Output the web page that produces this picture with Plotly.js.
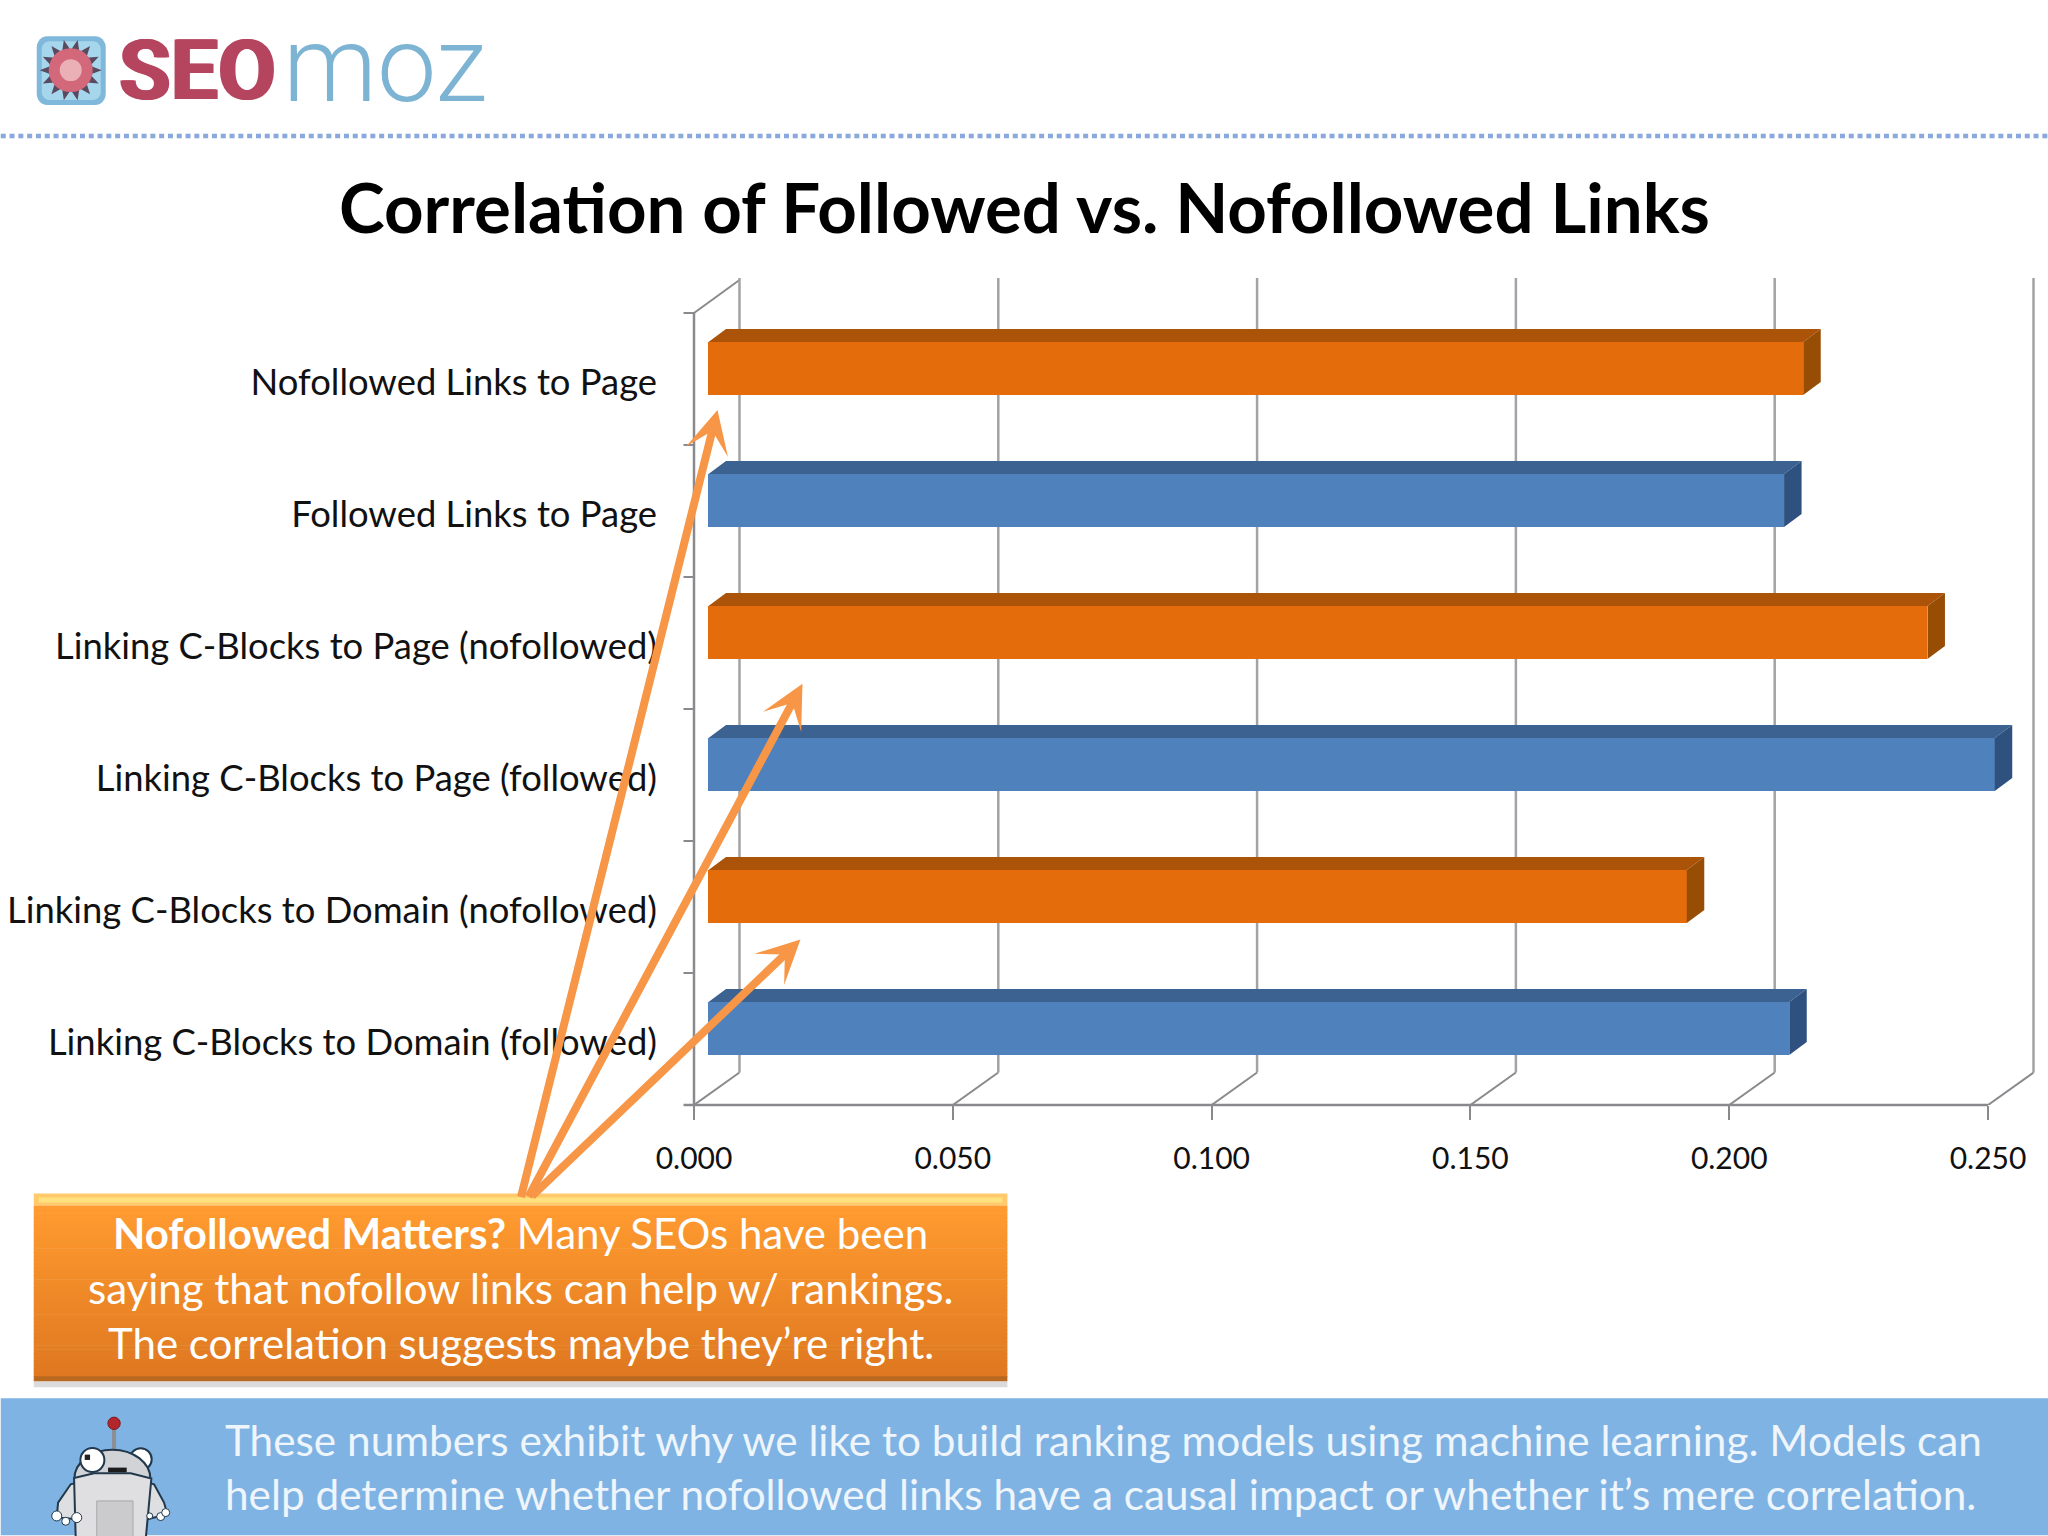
<!DOCTYPE html>
<html><head><meta charset="utf-8">
<script src="https://cdn.plot.ly/plotly-3.0.1.min.js"></script>
<style>html,body{margin:0;padding:0;background:#fff}</style></head>
<body><div id="chart" style="width:2048px;height:1536px"></div>
<script>
// ---- chart data, bottom row first ----
const categories = ['Linking C-Blocks to Domain (followed)','Linking C-Blocks to Domain (nofollowed)','Linking C-Blocks to Page (followed)','Linking C-Blocks to Page (nofollowed)','Followed Links to Page','Nofollowed Links to Page'];
const values = [0.2088,0.189,0.2485,0.2355,0.2078,0.2115];
const isNofollowed = [false,true,false,true,false,true];
const xTicks = [0,0.05,0.10,0.15,0.20,0.25];
const xTickLabels = ['0.000','0.050','0.100','0.150','0.200','0.250'];
const titleText = 'Correlation of Followed vs. Nofollowed Links';
const calloutLines = ['<b>Nofollowed Matters?</b> Many SEOs have been','saying that nofollow links can help w/ rankings.','The correlation suggests maybe they’re right.'];
const footerLines = ['These numbers exhibit why we like to build ranking models using machine learning. Models can','help determine whether nofollowed links have a causal impact or whether it’s mere correlation.'];

// ---- geometry of the page ----
const W=2048,H=1536,L=693.5,R=2040,T=278,B=1105.5;
const X=x=>(x-L)/(R-L), Y=y=>1-(y-T)/(B-T);
const xPerPx=0.25/(1988-L), yPerPx=6/(B-313);
const xMax=(R-L)*xPerPx, yTop=5.5+(313-T)*yPerPx;
const barBase=(708-L)*xPerPx, barW=53*yPerPx, barShift=10.5*yPerPx;
const dx=17.5*xPerPx, dy=13*yPerPx;
const wallDx=45.5*xPerPx, floorY=-0.5+32.5*yPerPx;
const FONT='Lato, sans-serif', GREY='#8a8a8e';

const shapes=[];
const line=(x0,y0,x1,y1,color,width,layer,dash)=>shapes.push({type:'line',xref:'paper',yref:'paper',x0:X(x0),y0:Y(y0),x1:X(x1),y1:Y(y1),layer:layer||'below',line:{color,width,dash:dash||'solid'}});
const rect=(x0,y0,x1,y1,fill,layer)=>shapes.push({type:'rect',xref:'paper',yref:'paper',x0:X(x0),y0:Y(y0),x1:X(x1),y1:Y(y1),layer:layer||'above',fillcolor:fill,line:{width:0}});
const circ=(cx,cy,rx,ry,fill,lc,lw)=>shapes.push({type:'circle',xref:'paper',yref:'paper',x0:X(cx-rx),y0:Y(cy-ry),x1:X(cx+rx),y1:Y(cy+ry),layer:'above',fillcolor:fill,line:{color:lc||fill,width:lw||0}});
const poly=(pts,fill,lc,lw)=>shapes.push({type:'path',xref:'paper',yref:'paper',path:'M'+pts.map(p=>X(p[0])+','+Y(p[1])).join('L')+'Z',layer:'above',fillcolor:fill,line:{color:lc||fill,width:lw||0}});
const rounded=(x0,y0,x1,y1,r)=>{const pts=[];[[x1-r,y0+r,-90],[x1-r,y1-r,0],[x0+r,y1-r,90],[x0+r,y0+r,180]].forEach(c=>{for(let k=0;k<=6;k++){const a=(c[2]+k*15)*Math.PI/180;pts.push([c[0]+r*Math.cos(a),c[1]+r*Math.sin(a)]);}});return pts;};

// walls and grid, all led by the tick values
xTicks.forEach(v=>{
  shapes.push({type:'line',xref:'x',yref:'y',x0:v+wallDx,x1:v+wallDx,y0:floorY,y1:yTop,layer:'below',line:{color:'#a3a3a7',width:2.5}});
  shapes.push({type:'line',xref:'x',yref:'y',x0:v,x1:v+wallDx,y0:-0.5,y1:floorY,layer:'below',line:{color:GREY,width:2}});
});
line(L,313,L,B,GREY,2.5);
line(L,313,739,280,GREY,2);
line(683,B,1988,B,GREY,2.5);
categories.forEach((c,i)=>{ shapes.push({type:'line',xref:'paper',yref:'y',x0:X(683),x1:X(L),y0:i+0.5,y1:i+0.5,layer:'below',line:{color:GREY,width:2}}); });

// dotted rule under the logo
line(0,136,W,136,'#8aa8dc',4.5,'above','5px,3.8px');

// logo badge
poly(rounded(36,36,105,105,11),'#7fb8da');
poly(rounded(41,41,100,100,8),'#a6d6ec');
const sun=[];for(let i=0;i<28;i++){const r=i%2?20:31,a=i*Math.PI/14;sun.push([70+r*Math.cos(a),70+r*Math.sin(a)]);}
poly(sun,'#5a4a60');
circ(70,70,22,22,'#d4687b');
circ(70,70,11,11,'#eab0b5');

// callout
rect(33,1382,1007,1388,'rgba(90,90,90,0.22)');
rect(33,1194,1007,1206,'#ffc96c');
rect(38,1198,1002,1203,'#ffe27e');
const n=44;
for(let i=0;i<n;i++){const t=i/(n-1),top=1206+i*(171/n);
  const c=`rgb(${Math.round(255-t*32)},${Math.round(155-t*35)},${Math.round(48-t*16)})`;
  rect(33,top,1007,top+171/n+0.6,c);}
rect(33,1377,1007,1382,'#b9691f');

// footer band and mascot
rect(0,1399,W,H,'#7fb3e3');
const RX=z=>30+z/3, RY=z=>1400+z/3, OUT='#22384c';
line(RX(250),RY(85),RX(250),RY(158),'#8d8f92',4,'above');
circ(RX(250),RY(72),6.2,6.2,'#b3262b','#7d1d22',1);
circ(RX(330),RY(180),11,11,'#ffffff',OUT,2);
poly([[RX(120),RY(255)],[RX(82),RY(310)],[RX(78),RY(355)],[RX(140),RY(360)],[RX(140),RY(250)]],'#dedfe0',OUT,2);
poly([[RX(370),RY(255)],[RX(400),RY(310)],[RX(410),RY(345)],[RX(350),RY(360)],[RX(350),RY(250)]],'#dedfe0',OUT,2);
circ(RX(245),RY(238),38,29,'#d2d3d6',OUT,2);
poly([[RX(130),RY(236)],[RX(190),RY(222)],[RX(300),RY(222)],[RX(362),RY(238)],[RX(345),RY(420)],[RX(135),RY(420)]],'#dfdfe1',OUT,2);
poly([[RX(198),RY(305)],[RX(307),RY(305)],[RX(307),RY(420)],[RX(198),RY(420)]],'#cbcbcd','#a9a9ac',1);
circ(RX(185),RY(182),12,12,'#ffffff',OUT,2);
rect(RX(162),RY(166),RX(178),RY(182),'#222222');
rect(RX(232),RY(205),RX(288),RY(219),'#1c1c1e');
[[78,350,5],[105,366,4],[138,355,5],[390,352,4],[405,340,4],[357,350,3]].forEach(h=>circ(RX(h[0]),RY(h[1]),h[2],h[2],'#ffffff',OUT,1));

// ---- traces ----
const barFaces=(want,face)=>{const xs=[],ys=[];
  values.forEach((v,i)=>{ if(isNofollowed[i]!==want)return;
    const e=barBase+v, lo=i+barShift-barW/2, hi=i+barShift+barW/2;
    if(face==='top'){xs.push(barBase,barBase+dx,e+dx,e,null);ys.push(hi,hi+dy,hi+dy,hi,null);}
    else{xs.push(e,e+dx,e+dx,e,null);ys.push(hi,hi+dy,lo+dy,lo,null);}
  });return {x:xs,y:ys};};
const faceTrace=(want,face,color)=>Object.assign(barFaces(want,face),{type:'scatter',mode:'lines',line:{width:0,color},fill:'toself',fillcolor:color,hoverinfo:'skip',showlegend:false});
const traces=[
  {type:'bar',orientation:'h',y:categories.map((c,i)=>i),x:values,base:barBase,width:barW,offset:barShift-barW/2,
   marker:{color:isNofollowed.map(b=>b?'#e46c0a':'#4f81bd'),line:{width:0}},hovertemplate:'%{customdata}: %{x}<extra></extra>',customdata:categories,showlegend:false},
  faceTrace(true,'top','#ab5308'),faceTrace(true,'side','#984d05'),
  faceTrace(false,'top','#3c6291'),faceTrace(false,'side','#2f5180')
];

// ---- text and arrows ----
const txt=(x,y,text,size,color,anchor,extra)=>({xref:'paper',yref:'paper',x:X(x),y:Y(y),text,showarrow:false,xanchor:anchor||'center',yanchor:'middle',font:Object.assign({family:FONT,size,color},extra||{})});
const arrow=(x0,y0,x1,y1)=>({xref:'paper',yref:'paper',x:X(x1),y:Y(y1),axref:'pixel',ayref:'pixel',ax:x0-x1,ay:y0-y1,text:' ',font:{size:1},showarrow:true,arrowhead:3,arrowsize:0.9,arrowwidth:8,arrowcolor:'#f79646',standoff:0,startstandoff:0});
const annotations=[
  txt(1024,206,'<b>'+titleText+'</b>',69,'#000000'),
  txt(197,70,'<b>SEO</b>',84,'#b5455f','center',{family:'Roboto, sans-serif',shadow:'1.5px 0 #b5455f, -1.5px 0 #b5455f'}),
  txt(384,65,'moz',106,'#7db3d3','center',{family:'Roboto, sans-serif',weight:300}),
  arrow(520,1199,717,410),arrow(527,1199,802,684),arrow(530,1198,800,940),
  ...calloutLines.map((t,i)=>txt(520,1234+i*55,t,42,'#ffffff')),
  ...footerLines.map((t,i)=>txt(222,1440+i*54.5,t,42.3,'#eef5fb','left'))
];

Plotly.newPlot('chart',traces,{
  width:W,height:H,margin:{l:L,r:W-R,t:T,b:H-B,pad:0},autosize:false,
  paper_bgcolor:'#ffffff',plot_bgcolor:'rgba(0,0,0,0)',bargap:0,showlegend:false,
  xaxis:{range:[0,xMax],tickmode:'array',tickvals:xTicks,ticktext:xTickLabels,ticks:'outside',ticklen:14,tickwidth:2,tickcolor:GREY,
    ticklabelstandoff:13,showgrid:false,zeroline:false,showline:false,tickfont:{family:FONT,size:30,color:'#111111'}},
  yaxis:{range:[-0.5,yTop],tickmode:'array',tickvals:categories.map((c,i)=>i),ticktext:categories,ticks:'',ticklabelstandoff:36,ticklabelshift:3,
    showgrid:false,zeroline:false,showline:false,tickfont:{family:FONT,size:36.4,color:'#111111'}},
  shapes,annotations
},{displayModeBar:false,responsive:false});
</script></body></html>
